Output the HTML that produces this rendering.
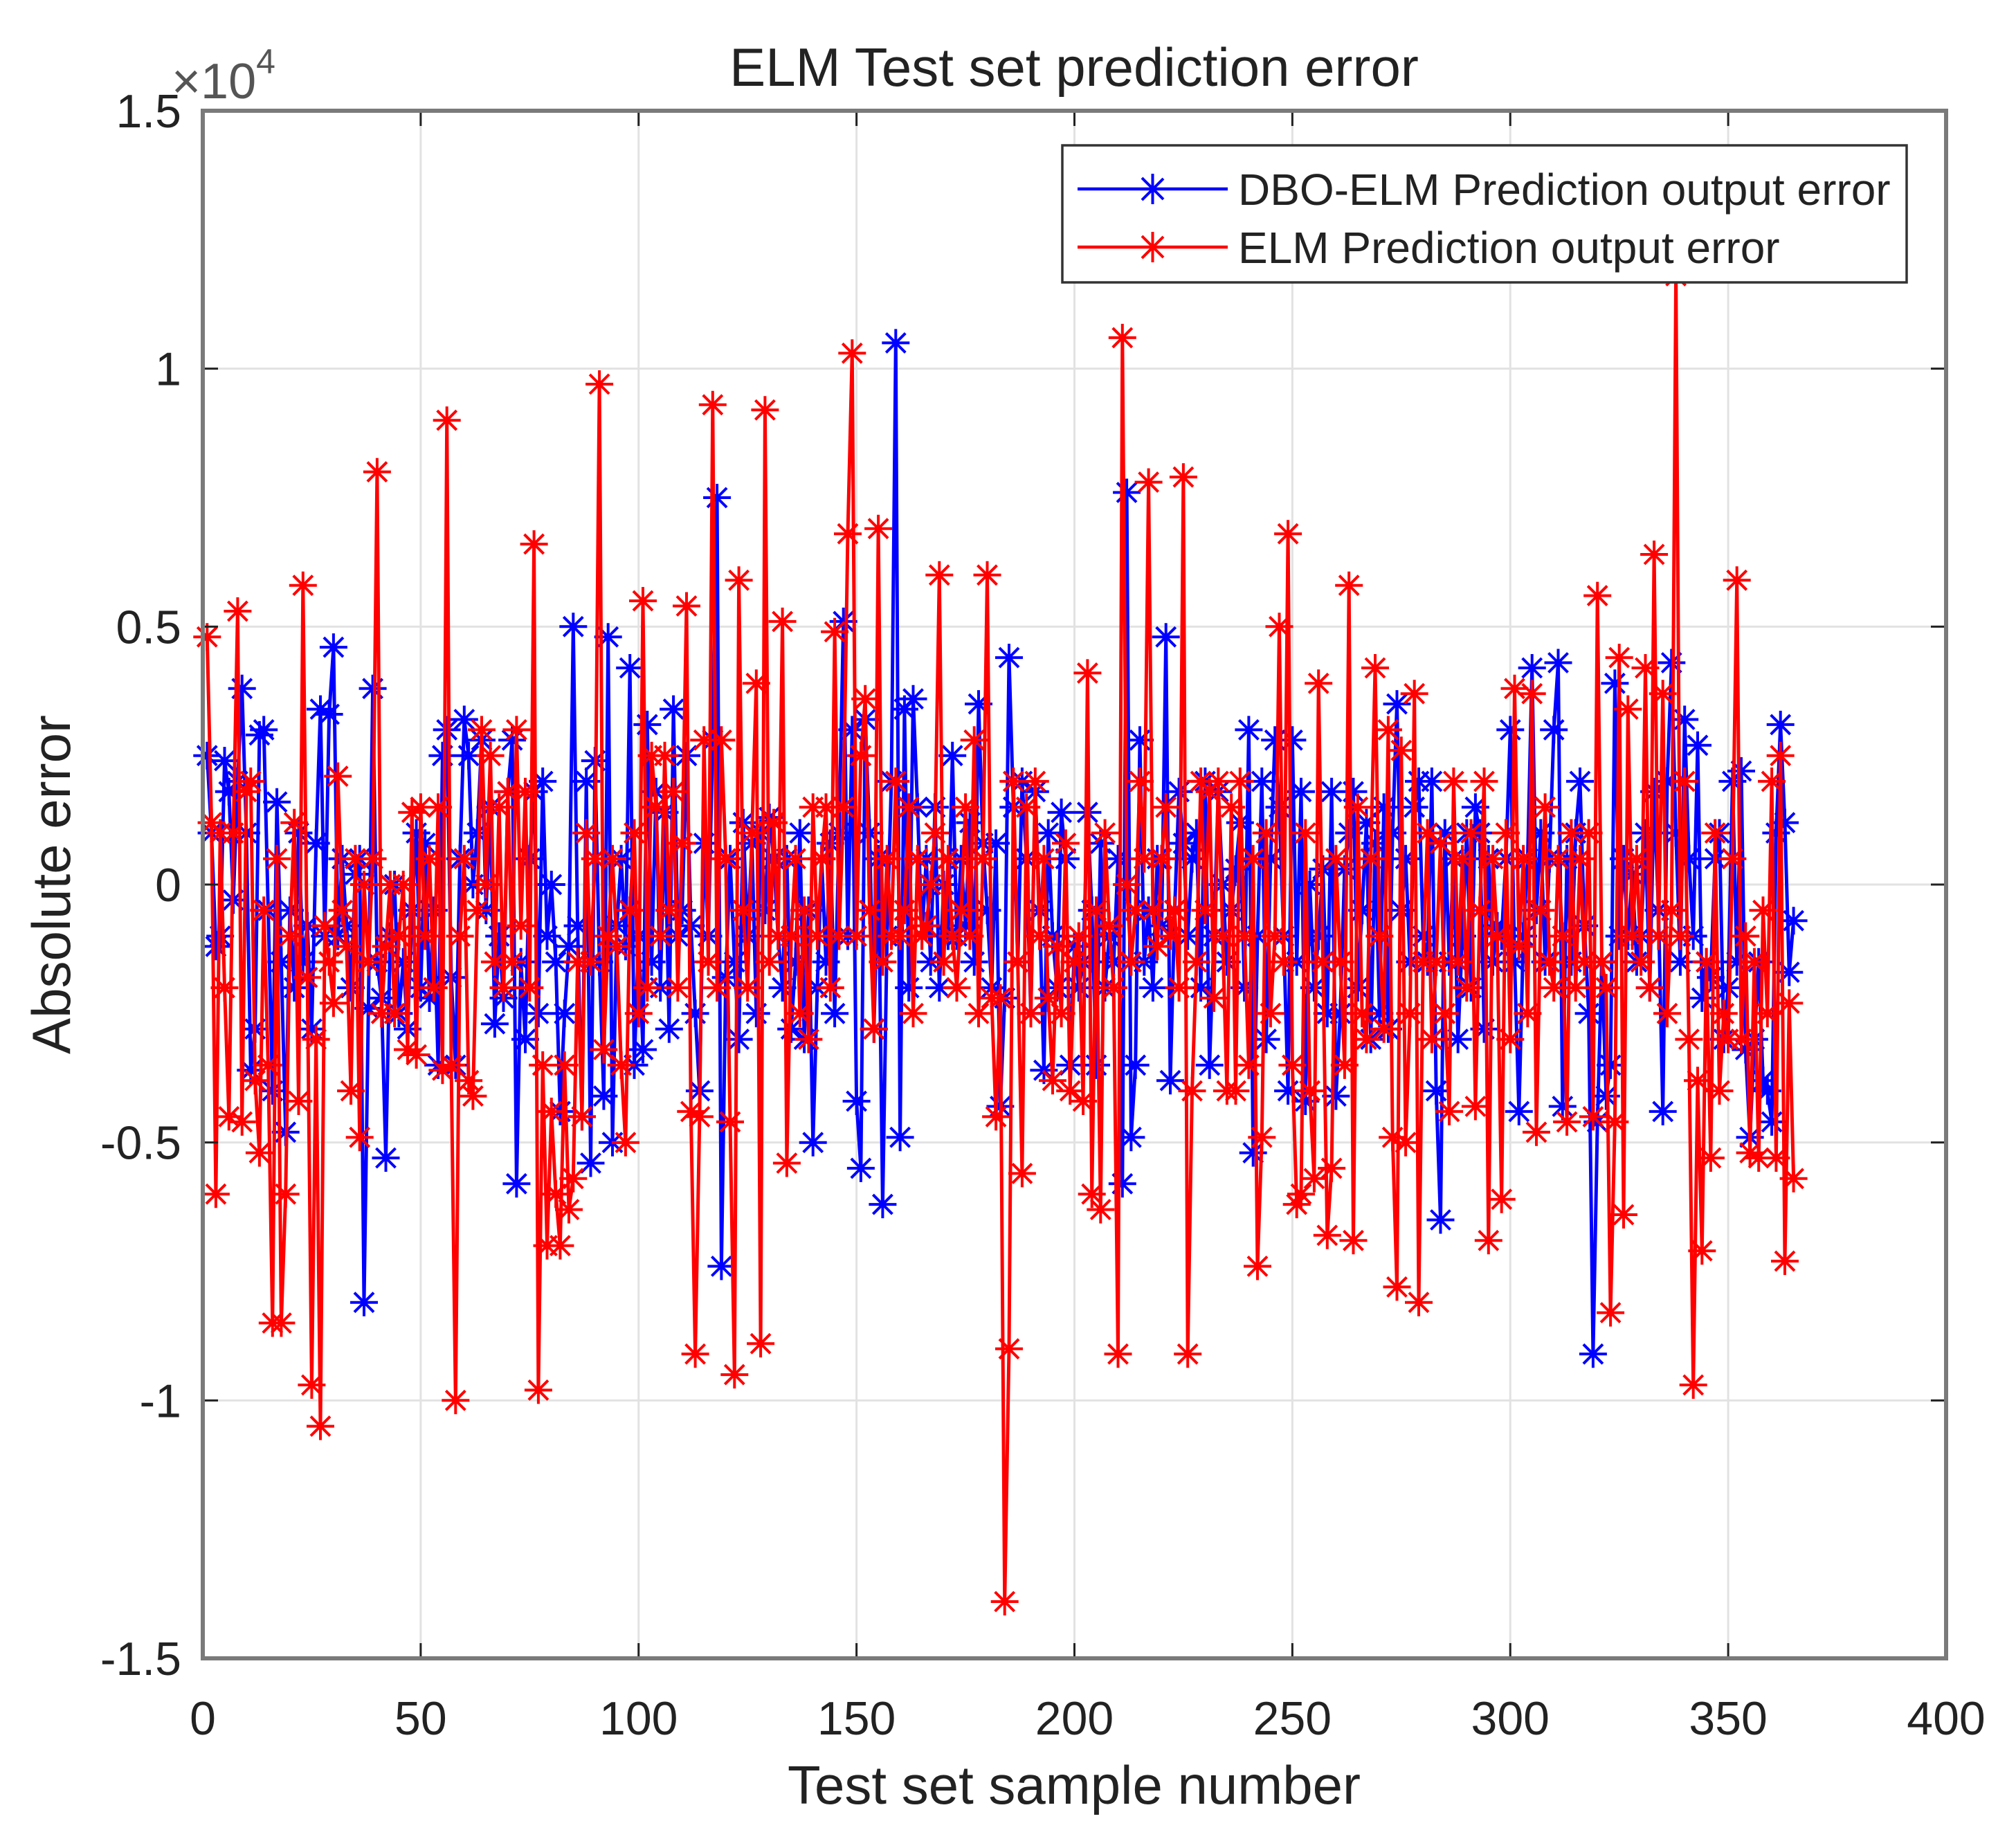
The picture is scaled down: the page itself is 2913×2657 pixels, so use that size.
<!DOCTYPE html>
<html><head><meta charset="utf-8"><style>
html,body{margin:0;padding:0;background:#fff}
svg{display:block;font-family:"Liberation Sans",sans-serif}
</style></head><body>
<svg id="chart" width="2913" height="2657" viewBox="0 0 2913 2657" xmlns="http://www.w3.org/2000/svg">
<rect x="0" y="0" width="2913" height="2657" fill="#fff"/>
<g id="grid"></g>
<g id="series"></g>
<g id="axes"></g>
<text x="1552" y="124" font-size="78" text-anchor="middle" fill="#222">ELM Test set prediction error</text>
<text x="1552" y="2606" font-size="78" text-anchor="middle" fill="#222">Test set sample number</text>
<text x="0" y="0" font-size="78" text-anchor="middle" fill="#222" transform="translate(101,1278) rotate(-90)">Absolute error</text>
<text x="248" y="142" font-size="72" fill="#555">×10<tspan font-size="50" dy="-36">4</tspan></text>
<g>
<rect x="1535" y="210" width="1220" height="198" fill="#fff" stroke="#333" stroke-width="3.5"/>
<line x1="1557" y1="273" x2="1774" y2="273" stroke="#0000ff" stroke-width="4.5"/>
<path d="M1665.5 251v44M1643.5 273h44M1650 257l31 31M1650 289l31-31" stroke="#0000ff" stroke-width="4" fill="none"/>
<text x="1789" y="296" font-size="64" fill="#222">DBO-ELM Prediction output error</text>
<line x1="1557" y1="357" x2="1774" y2="357" stroke="#ff0000" stroke-width="4.5"/>
<path d="M1665.5 335v44M1643.5 357h44M1650 341l31 31M1650 373l31-31" stroke="#ff0000" stroke-width="4" fill="none"/>
<text x="1789" y="380" font-size="64" fill="#222">ELM Prediction output error</text>
</g>
</svg>
<script>
const xTicks=[0,50,100,150,200,250,300,350,400];
const yTicks=[-1.5,-1,-0.5,0,0.5,1,1.5];
const yTickLabels=["-1.5","-1","-0.5","0","0.5","1","1.5"];
// values in thousands (axis shows x10^4)
const dboError=[2.5,1.0,-1.2,-1.0,2.4,1.8,-0.3,2.0,3.8,1.0,-3.6,-2.8,2.9,3.0,-0.5,-4.0,1.6,-1.5,-4.8,-0.5,
-2.0,1.0,-1.5,-0.8,-2.8,0.8,3.4,-1.0,3.3,4.6,-1.0,0.5,-0.8,-2.0,0.2,0.5,-8.1,-2.4,3.8,-1.5,
-2.2,-5.3,-1.0,0.0,-2.5,-1.5,-2.8,-0.5,1.0,-2.0,0.8,-2.2,-0.5,-3.5,2.5,3.0,-1.8,-3.5,0.5,3.2,
2.5,0.0,1.0,2.8,-0.5,1.5,-2.7,-1.0,-2.2,1.8,2.8,-5.8,-1.5,-3.0,0.5,1.8,-2.5,2.0,-1.0,0.0,
-1.5,-4.4,-2.5,-1.2,5.0,-0.8,-4.5,2.0,-5.4,2.4,-1.5,-4.1,4.8,-5.0,-0.8,0.5,-1.2,4.2,-3.5,-1.0,
-3.2,3.1,-1.5,1.8,-2.0,1.4,-2.8,3.4,-1.0,-0.5,2.5,-0.8,-2.5,-4.0,0.8,-1.0,2.8,7.5,-7.4,-1.8,
0.5,-1.5,-3.0,1.2,-1.0,0.8,-2.5,1.0,-0.5,1.3,0.5,-1.0,-2.0,0.5,-2.8,-1.5,1.0,-3.0,-0.5,-5.0,
-2.0,0.5,-1.5,0.8,-2.5,1.0,5.1,-1.0,3.0,-4.2,-5.5,3.2,1.0,-2.8,0.5,-6.2,-1.0,2.0,10.5,-4.9,
3.4,-2.0,3.6,1.5,-1.0,0.5,-1.5,1.5,-2.0,0.0,-1.0,2.5,-1.0,0.5,-0.8,1.2,-1.5,3.5,0.8,-0.5,
-2.0,0.8,-4.3,-2.2,4.4,1.5,-1.5,2.0,0.5,-2.5,1.8,-0.5,-3.6,1.0,-1.0,-2.0,1.4,0.5,-3.5,-1.2,
-2.0,-1.5,1.4,-0.5,-3.5,0.8,-2.0,-1.0,-1.5,0.5,-5.8,7.6,-4.9,-3.5,2.8,-1.5,-0.5,-2.0,0.5,-0.8,
4.8,-3.8,-0.5,1.8,0.8,-1.0,0.5,1.0,-2.0,2.0,-3.5,-1.0,1.8,0.0,-1.5,-0.5,0.3,1.2,-2.0,3.0,
-5.2,-1.0,2.0,-3.0,0.5,2.8,1.5,-1.0,-4.0,2.8,-1.5,1.8,-4.2,0.0,-2.0,-1.0,0.3,-2.5,1.8,-4.1,
-2.5,0.3,1.0,1.8,-2.0,-0.5,1.2,-3.0,0.8,-2.5,1.5,-2.8,1.0,3.5,-0.5,0.5,-1.5,1.5,2.0,-1.0,
-1.5,2.0,-4.0,-6.5,1.0,-1.5,0.5,-3.0,-1.0,1.0,-2.0,1.5,1.0,-2.8,0.5,-1.5,-0.8,-1.0,0.5,3.0,
-1.5,-4.4,-1.0,0.5,4.2,-0.5,1.0,-1.5,0.5,3.0,4.3,-4.3,0.5,-1.5,1.0,2.0,-0.8,-2.5,-9.1,-4.6,
-1.5,-4.1,-3.5,3.9,-1.0,0.5,-1.0,0.2,-1.5,-1.0,1.0,-2.0,1.8,-0.5,-4.4,2.0,4.3,1.0,-1.5,3.2,
0.5,-1.0,2.7,-2.2,-1.5,-1.8,0.5,1.0,-3.0,-2.0,2.0,-1.5,2.2,-3.2,-4.9,-3.0,-1.5,-3.8,-4.0,-4.6,1.0,3.1,1.2,-1.7,-0.7];
const elmError=[4.8,1.2,-6.0,1.0,-2.0,-4.5,1.0,5.3,-4.6,1.8,2.0,-3.8,-5.2,-0.5,-3.5,-8.5,0.5,-8.5,-6.0,-1.0,
1.2,-4.2,5.8,-1.8,-9.7,-3.0,-10.5,-0.8,-1.5,-2.3,2.1,-0.5,-1.2,-4.0,0.5,-4.9,0.0,-1.5,0.5,8.0,
-2.5,-1.2,0.0,-2.5,-1.0,0.0,-3.2,1.4,-3.3,1.5,-1.0,0.5,-2.0,1.5,-3.6,9.0,-3.5,-10.0,-1.0,0.5,
-3.8,-4.1,-0.5,3.0,0.0,2.5,-1.5,1.5,-2.0,1.8,-1.5,3.0,-0.8,1.8,-2.0,6.6,-9.8,-3.5,-7.0,-4.4,
-6.0,-7.0,-3.5,-6.3,-5.7,-1.5,-4.5,1.0,-1.5,0.5,9.7,-3.2,-1.0,0.5,-1.2,-3.5,-5.0,-0.5,1.0,-2.5,
5.5,-2.0,2.5,1.5,-1.0,2.5,-0.5,1.8,-2.0,0.8,5.4,-4.4,-9.1,-4.5,2.8,-1.5,9.3,-2.0,2.8,0.5,
-4.6,-9.5,5.9,-0.5,-2.0,1.0,3.9,-8.9,9.2,-1.5,1.2,-1.0,5.1,-5.4,-1.0,0.5,-2.5,-0.5,-3.0,1.5,
-1.0,0.5,1.5,-2.0,4.9,-1.0,1.5,6.8,10.3,-1.0,2.5,3.6,-0.5,-2.8,6.9,-1.5,0.5,-1.0,2.0,-1.0,
-0.5,1.5,-2.5,0.5,-1.0,-0.8,0.0,1.0,6.0,-1.5,0.5,-1.0,-2.0,-0.5,1.5,-1.0,2.8,-2.5,0.5,6.0,
-2.2,-4.5,-2.2,-13.9,-9.0,2.0,-1.5,-5.6,1.5,-2.5,2.0,-1.0,0.5,-2.2,-3.8,-1.2,-2.5,0.8,-4.0,-1.5,
-1.0,-4.2,4.1,-6.0,-0.5,-6.3,1.0,-0.8,-2.0,-9.1,10.6,0.0,-1.5,-0.5,2.0,0.5,7.8,-0.5,-1.2,0.5,
1.5,-1.0,-0.5,-2.0,7.9,-9.1,-4.0,-1.5,2.0,-0.5,1.8,-2.2,2.0,-1.0,-4.0,1.5,-4.0,2.0,-1.0,-3.5,
0.5,-7.4,-4.9,1.0,-2.5,-1.0,5.0,-1.5,6.8,-3.5,-6.2,-6.0,1.0,-4.0,-5.7,3.9,-1.5,-6.8,-5.5,0.5,
-1.5,-3.5,5.8,-6.9,1.5,-2.5,-3.0,0.5,4.2,-1.0,-2.8,3.0,-4.9,-7.8,2.6,-5.0,-2.5,3.7,-8.1,-1.5,
1.0,-3.0,-1.5,0.8,-2.5,-4.4,2.0,-1.5,0.5,-2.0,1.0,-4.3,-0.5,2.0,-6.9,0.5,-1.0,-6.1,1.0,-3.0,
3.8,-1.2,0.5,-2.5,3.7,-4.8,-0.5,1.5,-1.5,-2.0,0.5,-1.0,-4.6,1.0,-2.0,0.5,-1.5,1.0,-4.5,5.6,
-1.5,-2.0,-8.3,-4.6,4.4,-6.4,3.4,-1.0,0.5,-1.5,4.2,-2.0,6.4,-1.0,3.7,-2.5,-0.5,11.8,-1.0,2.0,
-3.0,-9.7,-3.8,-7.1,-1.5,-5.3,1.0,-4.0,-2.5,-3.0,0.5,5.9,-3.0,-1.0,-5.2,-1.5,-5.3,-0.5,-2.5,2.0,-5.3,2.5,-7.3,-2.3,-5.7];

const L=293,R=2812,T=160,B=2396;
const NS="http://www.w3.org/2000/svg";
function xs(v){return L+(v-0)/(400-0)*(R-L);}
function ys(v){return B-(v-(-1.5))/(3)*(B-T);} // v in 1e4 units
function mk(tag,attrs,parent){const e=document.createElementNS(NS,tag);for(const k in attrs)e.setAttribute(k,attrs[k]);parent.appendChild(e);return e;}
const grid=document.getElementById('grid'),axes=document.getElementById('axes'),ser=document.getElementById('series');
xTicks.forEach((t,i)=>{
 const x=xs(t);
 if(i>0&&i<xTicks.length-1){const g=mk('line',{x1:x,y1:T,x2:x,y2:B,stroke:'#e2e2e2','stroke-width':3},grid);
 
 }
 const tk=mk('path',{d:`M${x} ${B}v-22M${x} ${T}v22`,stroke:'#222','stroke-width':3},axes);
 
 
 const lb=mk('text',{x:x,y:2506,'font-size':68,'text-anchor':'middle',fill:'#222'},axes);
 lb.textContent=String(t);
 
 
});
yTicks.forEach((t,i)=>{
 const y=ys(t);
 if(i>0&&i<yTicks.length-1){const g=mk('line',{x1:L,y1:y,x2:R,y2:y,stroke:'#e2e2e2','stroke-width':3},grid);
 
 }
 const tk=mk('path',{d:`M${L} ${y}h22M${R} ${y}h-22`,stroke:'#222','stroke-width':3},axes);
 
 
 const lb=mk('text',{x:262,y:y+24,'font-size':68,'text-anchor':'end',fill:'#222'},axes);
 lb.textContent=yTickLabels[i];
 
 
});
const box=mk('rect',{x:L,y:T,width:R-L,height:B-T,fill:'none',stroke:'#7a7a7a','stroke-width':6},axes);


function drawSeries(vals,color,name){
 let d='',m='';const s=20,q=14;
 vals.forEach((v,i)=>{const x=xs(i+1),y=ys(v/10);d+=(i?'L':'M')+x.toFixed(1)+' '+y.toFixed(1);
  m+=`M${(x-s).toFixed(1)} ${y.toFixed(1)}h${2*s}M${x.toFixed(1)} ${(y-s).toFixed(1)}v${2*s}M${(x-q).toFixed(1)} ${(y-q).toFixed(1)}l${2*q} ${2*q}M${(x-q).toFixed(1)} ${(y+q).toFixed(1)}l${2*q} ${-2*q}`;});
 const ln=mk('path',{d:d,stroke:color,'stroke-width':5,fill:'none','stroke-linejoin':'round'},ser);
 
 
 const mm=mk('path',{d:m,stroke:color,'stroke-width':4,fill:'none'},ser);
 
 
}
drawSeries(dboError,'#0000ff','dbo-elm-error');
drawSeries(elmError,'#ff0000','elm-error');
</script>
</body></html>
